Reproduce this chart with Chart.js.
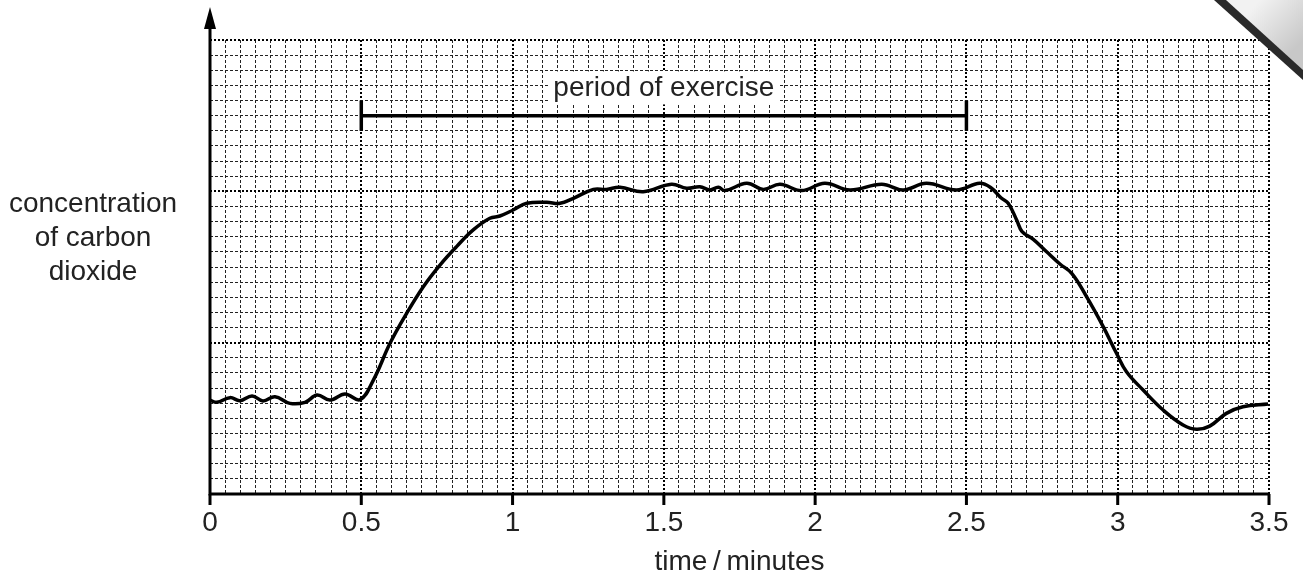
<!DOCTYPE html>
<html>
<head>
<meta charset="utf-8">
<title>concentration of carbon dioxide</title>
<script src="https://cdn.jsdelivr.net/npm/chart.js@4/dist/chart.umd.min.js"></script>
<style>
  html, body { margin: 0; padding: 0; background: #fff; }
  #wrap { width: 1303px; height: 579px; }
</style>
</head>
<body>
<div id="wrap"><canvas id="chartCo2"></canvas></div>
<script>
// time in minutes and CO2 level (grid units)
const timeMin = [0.000, 0.023, 0.066, 0.099, 0.139, 0.175, 0.215, 0.264, 0.314, 0.354, 0.397, 0.446, 0.496,
  0.540, 0.595, 0.650, 0.705, 0.760, 0.815, 0.870, 0.925, 0.958, 1.002, 1.047, 1.113, 1.157, 1.201, 1.267,
  1.310, 1.355, 1.432, 1.525, 1.575, 1.619, 1.652, 1.680, 1.702, 1.774, 1.829, 1.884, 1.955, 2.032, 2.115,
  2.220, 2.291, 2.368, 2.467, 2.544, 2.580, 2.616, 2.638, 2.666, 2.684, 2.721, 2.765, 2.809, 2.848, 2.897,
  2.952, 2.996, 3.029, 3.084, 3.150, 3.216, 3.260, 3.304, 3.359, 3.414, 3.497];
const co2Level = [0.620, 0.606, 0.637, 0.617, 0.648, 0.615, 0.643, 0.599, 0.606, 0.654, 0.621, 0.661, 0.624,
  0.753, 0.996, 1.194, 1.370, 1.513, 1.635, 1.745, 1.822, 1.837, 1.877, 1.921, 1.928, 1.921, 1.954, 2.013,
  2.013, 2.027, 1.998, 2.047, 2.020, 2.031, 2.009, 2.027, 2.005, 2.053, 2.013, 2.047, 2.005, 2.053, 2.009,
  2.047, 2.009, 2.053, 2.009, 2.053, 2.025, 1.954, 1.921, 1.811, 1.734, 1.683, 1.601, 1.520, 1.458, 1.304,
  1.106, 0.930, 0.808, 0.687, 0.555, 0.456, 0.428, 0.449, 0.533, 0.577, 0.595];

// period of exercise bar
const exerciseX = [0.5, 2.5];
const exerciseY = [2.5, 2.5];
const capY = [2.4, 2.6];

const xTickLabels = ['0', '0.5', '1', '1.5', '2', '2.5', '3', '3.5'];

const FONT = "'Liberation Sans', Arial, sans-serif";
const isWhole = (v, step) => Math.abs(v / step - Math.round(v / step)) < 1e-6;

var decorPlugin = {
    id: 'decor',
    afterDraw(chart) {
        const ctx = chart.ctx;
        const xs = chart.scales.x, ys = chart.scales.y;
        const left = xs.getPixelForValue(0), right = xs.getPixelForValue(3.5);
        const bottom = ys.getPixelForValue(0);
        ctx.save();
        ctx.strokeStyle = '#000';
        ctx.fillStyle = '#000';
        ctx.lineWidth = 3;
        ctx.setLineDash([]);
        // axes
        ctx.beginPath();
        ctx.moveTo(left - 1.5, bottom);
        ctx.lineTo(right, bottom);
        ctx.moveTo(left, bottom);
        ctx.lineTo(left, 26);
        ctx.stroke();
        ctx.beginPath();
        ctx.moveTo(left, 7);
        ctx.lineTo(left - 6, 29);
        ctx.lineTo(left + 6, 29);
        ctx.closePath();
        ctx.fill();
        // major ticks under the x axis
        ctx.beginPath();
        for (let i = 0; i < xTickLabels.length; i++) {
            const px = xs.getPixelForValue(parseFloat(xTickLabels[i]));
            ctx.moveTo(px, bottom);
            ctx.lineTo(px, bottom + 11);
        }
        ctx.stroke();

        // y label
        ctx.fillStyle = '#222';
        ctx.font = '28px ' + FONT;
        ctx.textAlign = 'center';
        ctx.textBaseline = 'middle';
        ['concentration', 'of carbon', 'dioxide'].forEach((t, i) => ctx.fillText(t, 93, 204 + i * 34));

        // period of exercise label on a white box
        const tx = xs.getPixelForValue(1.5), ty = ys.getPixelForValue(2.68);
        const w = ctx.measureText('period of exercise').width;
        ctx.fillStyle = '#fff';
        ctx.fillRect(tx - w / 2 - 4, ty - 17, w + 8, 33);
        ctx.fillStyle = '#222';
        ctx.fillText('period of exercise', tx, ty);

        // margin stamp in the corner
        const g = ctx.createLinearGradient(1260, 0, 1303, 40);
        g.addColorStop(0, '#f2f2f2');
        g.addColorStop(1, '#c8c8c8');
        ctx.fillStyle = g;
        ctx.beginPath();
        ctx.moveTo(1224, 0);
        ctx.lineTo(1303, 0);
        ctx.lineTo(1303, 72);
        ctx.closePath();
        ctx.fill();
        ctx.fillStyle = '#2a2a2a';
        ctx.beginPath();
        ctx.moveTo(1214, 0);
        ctx.lineTo(1226, 0);
        ctx.lineTo(1303, 70);
        ctx.lineTo(1303, 80);
        ctx.closePath();
        ctx.fill();
        ctx.restore();
    }
};

var ctxCo2 = document.getElementById('chartCo2').getContext('2d');
var optionsCo2 = {
    type: 'line',
    data: {
        datasets: [{
            label: 'CO2',
            data: timeMin.map((t, i) => ({x: t, y: co2Level[i]})),
            borderColor: '#000',
            borderWidth: 3.5,
            pointRadius: 0,
            tension: 0.4,
            fill: false
        }, {
            label: 'exercise',
            data: exerciseX.map((t, i) => ({x: t, y: exerciseY[i]})),
            borderColor: '#000',
            borderWidth: 3.5,
            pointRadius: 0
        }, {
            label: 'start',
            data: capY.map(v => ({x: exerciseX[0], y: v})),
            borderColor: '#000',
            borderWidth: 3.5,
            pointRadius: 0
        }, {
            label: 'end',
            data: capY.map(v => ({x: exerciseX[1], y: v})),
            borderColor: '#000',
            borderWidth: 3.5,
            pointRadius: 0
        }]
    },
    options: {
        responsive: true,
        maintainAspectRatio: false,
        animation: false,
        layout: { padding: { left: 210, right: 34, top: 40, bottom: 0 } },
        plugins: { legend: { display: false }, tooltip: { enabled: false } },
        scales: {
            x: {
                type: 'linear',
                min: 0,
                max: 3.5,
                ticks: {
                    stepSize: 0.05,
                    autoSkip: false,
                    maxRotation: 0,
                    minRotation: 0,
                    padding: 14,
                    color: '#222',
                    font: { family: FONT, size: 28, lineHeight: 1.07 },
                    callback: v => isWhole(v, 0.5) ? xTickLabels[Math.round(v / 0.5)] : ''
                },
                grid: {
                    drawTicks: false,
                    color: c => isWhole(c.tick.value, 0.5) ? '#000' : '#222',
                    lineWidth: c => isWhole(c.tick.value, 0.5) ? 2 : 1
                },
                border: {
                    display: false,
                    dash: c => isWhole(c.tick.value, 0.5) ? [2, 2] : [3, 2]
                },
                title: {
                    display: true,
                    text: 'time\u2009/\u2009minutes',
                    color: '#222',
                    font: { family: FONT, size: 28, lineHeight: 0.75 },
                    padding: { top: 0, bottom: 6 }
                }
            },
            y: {
                min: 0,
                max: 3,
                ticks: { stepSize: 0.1, display: false },
                grid: {
                    drawTicks: false,
                    color: c => isWhole(c.tick.value, 1) ? '#000' : '#222',
                    lineWidth: c => isWhole(c.tick.value, 1) ? 2 : 1
                },
                border: {
                    display: false,
                    dash: c => isWhole(c.tick.value, 1) ? [2, 2] : [3, 2]
                }
            }
        }
    },
    plugins: [decorPlugin]
};
var chart = new Chart(ctxCo2, optionsCo2);
</script>
</body>
</html>
